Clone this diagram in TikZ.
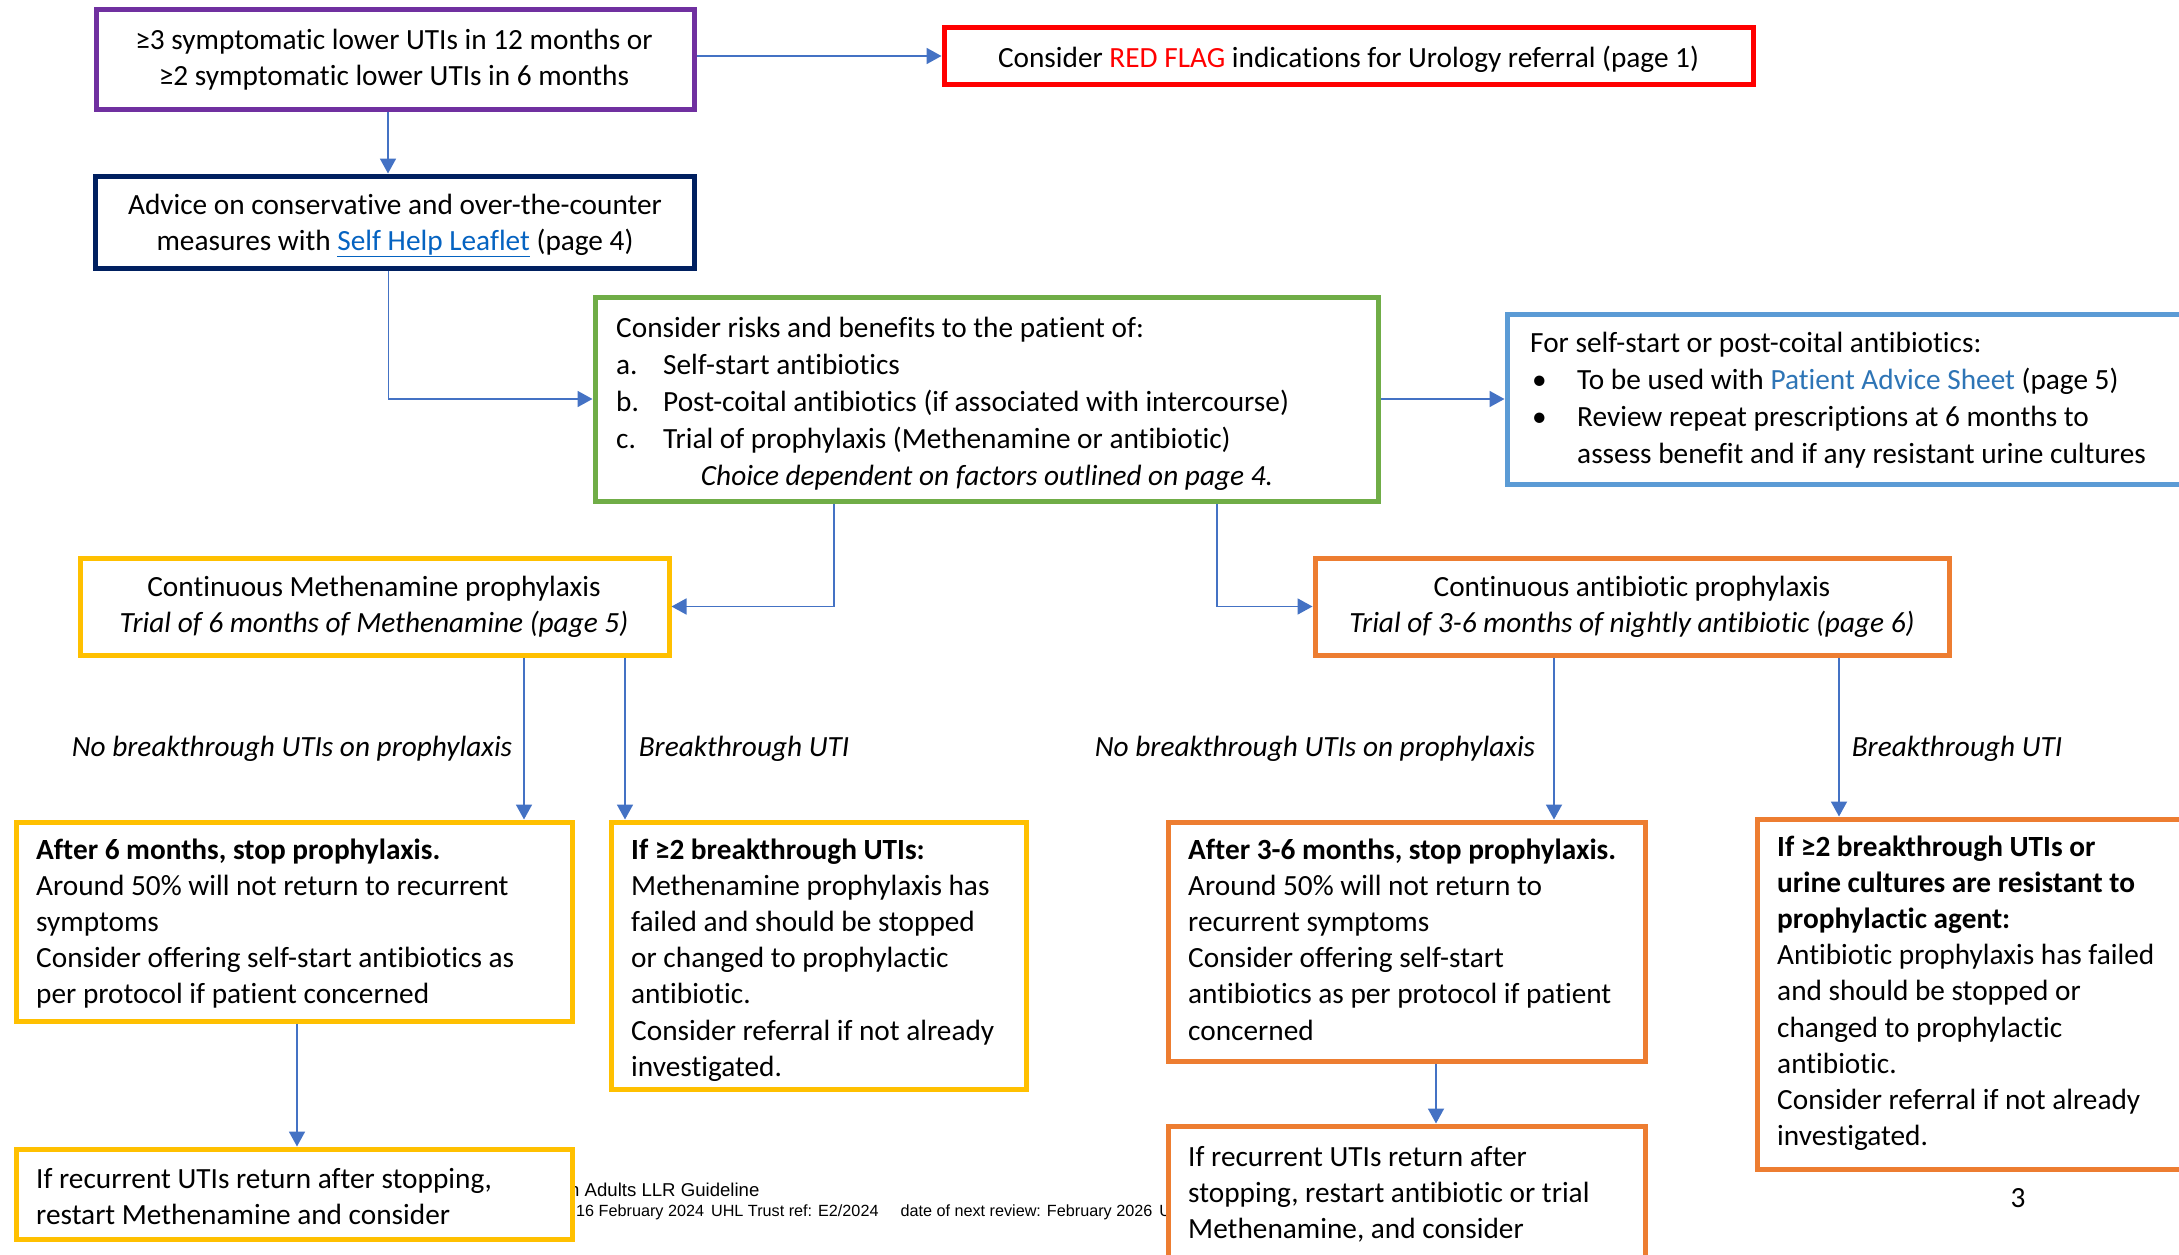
\documentclass[tikz,border=0pt]{standalone}
\usepackage{fontspec}
\setmainfont{Carlito}[Ligatures=NoCommon]
\newfontfamily\arialfont{Liberation Sans}
\usetikzlibrary{arrows.meta}
\definecolor{ppurple}{HTML}{7030A0}
\definecolor{nnavy}{HTML}{002060}
\definecolor{rred}{HTML}{FF0000}
\definecolor{ggreen}{HTML}{70AD47}
\definecolor{bblue}{HTML}{5B9BD5}
\definecolor{yyellow}{HTML}{FFC000}
\definecolor{oorange}{HTML}{ED7D31}
\definecolor{arrowc}{HTML}{4472C4}
\definecolor{linkc}{HTML}{0563C1}
\definecolor{advc}{HTML}{2E75B6}
\tikzset{
  box/.style={draw, line width=5pt, fill=white, inner sep=0pt},
  conn/.style={draw=arrowc, line width=1.8pt, -{Triangle[length=15pt,width=16pt]}},
  txt/.style={inner sep=0pt, anchor=base west, align=left, font=\fontsize{29.3}{36.2}\selectfont},
  ctxt/.style={inner sep=0pt, anchor=base, align=center, font=\fontsize{29.3}{36.2}\selectfont},
  lbl/.style={inner sep=0pt, anchor=base, font=\fontsize{29.3}{36.2}\selectfont\itshape},
}
\begin{document}
\begin{tikzpicture}[x=1pt,y=-1pt]
\useasboundingbox (0,0) rectangle (2179,1255);
\clip (0,0) rectangle (2179,1255);
\fill[white] (0,0) rectangle (2179,1255);

% footer (partly covered by boxes)
\node[inner sep=0pt, anchor=base west, font=\arialfont\fontsize{18.6}{21}\selectfont] (foot1) at (569,1196) {n Adults LLR Guideline};
\node[inner sep=0pt, anchor=base west, font=\arialfont\fontsize{16.2}{20}\selectfont] (foot2) at (576,1216) {16 February 2024\hspace{7pt}UHL Trust ref: E2/2024\hspace{22pt}date of next review: February 2026\hspace{7pt}U};

% boxes
\node[box, draw=ppurple, minimum width=598pt, minimum height=99pt] (P) at (395,59.5) {};
\node[box, draw=rred, minimum width=809pt, minimum height=56pt] (R) at (1348.5,56) {};
\node[box, draw=nnavy, minimum width=599pt, minimum height=92pt] (N) at (394.5,222) {};
\node[box, draw=ggreen, minimum width=783pt, minimum height=204pt] (G) at (986.5,399) {};
\node[box, draw=bblue, minimum width=693pt, minimum height=170pt] (B) at (1853.5,399) {};
\node[box, draw=yyellow, minimum width=589pt, minimum height=97pt] (Y1) at (374.5,606.5) {};
\node[box, draw=oorange, minimum width=634pt, minimum height=97pt] (O1) at (1632,606.5) {};
\node[box, draw=yyellow, minimum width=556pt, minimum height=199pt] (A) at (294,921.5) {};
\node[box, draw=yyellow, minimum width=415pt, minimum height=267pt] (Bx) at (818.5,955.5) {};
\node[box, draw=yyellow, minimum width=556pt, minimum height=90pt] (C) at (294,1194) {};
\node[box, draw=oorange, minimum width=477pt, minimum height=239pt] (D) at (1406.5,941.5) {};
\node[box, draw=oorange, minimum width=443pt, minimum height=350pt] (E) at (1978.5,994) {};
\node[box, draw=oorange, minimum width=477pt, minimum height=154pt] (F) at (1406.5,1203) {};

% connectors
\draw[conn] (R.west -| P.east) -- (R.west);
\draw[conn] ([xshift=-7pt]P.south) -- ([xshift=-7pt]P.south |- N.north);
\draw[conn] ([xshift=-6pt]N.south) |- (G.west);
\draw[conn] (G.east) -- (B.west);
\draw[conn] ([xshift=-152.5pt]G.south) |- (Y1.east);
\draw[conn] ([xshift=230.5pt]G.south) |- (O1.west);
\draw[conn] ([xshift=149.5pt]Y1.south) -- ([xshift=149.5pt]Y1.south |- A.north);
\draw[conn] ([xshift=250.5pt]Y1.south) -- ([xshift=250.5pt]Y1.south |- Bx.north);
\draw[conn] ([xshift=3pt]A.south) -- ([xshift=3pt]A.south |- C.north);
\draw[conn] ([xshift=-78pt]O1.south) -- ([xshift=-78pt]O1.south |- D.north);
\draw[conn] ([xshift=207pt]O1.south) -- ([xshift=207pt]O1.south |- E.north);
\draw[conn] ([xshift=29.5pt]D.south) -- ([xshift=29.5pt]D.south |- F.north);

% texts (base anchor of a multi-line node = baseline of its last line)
\node[ctxt] (tP) at (394,85.2) {≥3 symptomatic lower UTIs in 12 months or\\≥2 symptomatic lower UTIs in 6 months};
\node[ctxt] (tR) at (1348.5,67) {Consider {\color{rred}RED FLAG} indications for Urology referral (page 1)};
\node[ctxt] (tN) at (395,250.2) {Advice on conservative and over-the-counter\\measures with {\color{linkc}\underline{Self Help Leaflet}} (page 4)};

\node[txt] (tG0) at (616,337) {Consider risks and benefits to the patient of:};
\node[txt, font=\fontsize{29.3}{37}\selectfont] (tGl) at (616,448) {a.\\b.\\c.};
\node[txt, font=\fontsize{29.3}{37}\selectfont] (tGi) at (663,448) {Self-start antibiotics\\Post-coital antibiotics (if associated with intercourse)\\Trial of prophylaxis (Methenamine or antibiotic)};
\node[lbl] (tG4) at (987,485) {Choice dependent on factors outlined on page 4.};

\node[txt] (tB0) at (1530,352) {For self-start or post-coital antibiotics:};
\node[txt] (tBb1) at (1532,389) {•};
\node[txt] (tBb2) at (1532,426) {•};
\node[txt, font=\fontsize{29.3}{37}\selectfont] (tBi) at (1577,463) {To be used with {\color{advc}Patient Advice Sheet} (page 5)\\Review repeat prescriptions at 6 months to\\assess benefit and if any resistant urine cultures};

\node[ctxt] (tY1) at (374,632.2) {Continuous Methenamine prophylaxis\\\textit{Trial of 6 months of Methenamine (page 5)}};
\node[ctxt] (tO1) at (1632,632.2) {Continuous antibiotic prophylaxis\\\textit{Trial of 3-6 months of nightly antibiotic (page 6)}};

\node[lbl] (l1) at (292,756) {No breakthrough UTIs on prophylaxis};
\node[lbl] (l2) at (744,756) {Breakthrough UTI};
\node[lbl] (l3) at (1315,756) {No breakthrough UTIs on prophylaxis};
\node[lbl] (l4) at (1957,756) {Breakthrough UTI};

\node[txt] (tA) at (36,1003.8) {\textbf{After 6 months, stop prophylaxis.}\\Around 50\% will not return to recurrent\\symptoms\\Consider offering self-start antibiotics as\\per protocol if patient concerned};
\node[txt] (tBx) at (631,1076.2) {\textbf{If ≥2 breakthrough UTIs:}\\Methenamine prophylaxis has\\failed and should be stopped\\or changed to prophylactic\\antibiotic.\\Consider referral if not already\\investigated.};
\node[txt] (tD) at (1188,1040) {\textbf{After 3-6 months, stop prophylaxis.}\\Around 50\% will not return to\\recurrent symptoms\\Consider offering self-start\\antibiotics as per protocol if patient\\concerned};
\node[txt] (tE) at (1777,1145.6) {\textbf{If ≥2 breakthrough UTIs or}\\\textbf{urine cultures are resistant to}\\\textbf{prophylactic agent:}\\Antibiotic prophylaxis has failed\\and should be stopped or\\changed to prophylactic\\antibiotic.\\Consider referral if not already\\investigated.};
\node[txt] (tC) at (36,1224.2) {If recurrent UTIs return after stopping,\\restart Methenamine and consider};
\node[txt] (tF) at (1188,1238.4) {If recurrent UTIs return after\\stopping, restart antibiotic or trial\\Methenamine, and consider};

\node[ctxt] (pg) at (2018,1207) {3};
\end{tikzpicture}
\end{document}
